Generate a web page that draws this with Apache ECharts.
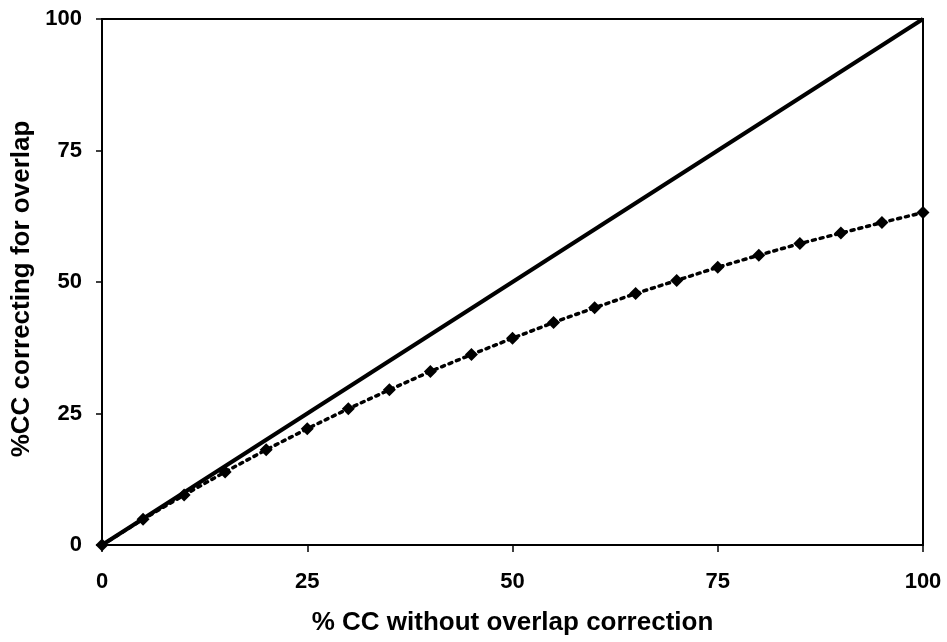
<!DOCTYPE html>
<html>
<head>
<meta charset="utf-8">
<script src="https://cdn.jsdelivr.net/npm/echarts@6/dist/echarts.min.js"></script>
<style>
  html, body { margin: 0; padding: 0; background: #fff; }
  #chart { width: 947px; height: 642px; }
</style>
</head>
<body>
<div id="chart"></div>
<script>
// % CC without overlap correction (x) against % CC correcting for overlap (y)
const xValues = [0, 5, 10, 15, 20, 25, 30, 35, 40, 45, 50, 55, 60, 65, 70, 75, 80, 85, 90, 95, 100];
const correctedValues = [0, 4.9, 9.5, 13.9, 18.1, 22.1, 25.9, 29.5, 33.0, 36.2, 39.3, 42.3, 45.1, 47.8, 50.3, 52.8, 55.1, 57.3, 59.3, 61.3, 63.2];
const identityX = [0, 100];
const identityY = [0, 100];
const tickValues = [0, 25, 50, 75, 100];

const xTitle = '% CC without overlap correction';
const yTitle = '%CC correcting for overlap';

const font = 'Liberation Sans, Arial, sans-serif';

const chart = echarts.init(document.getElementById('chart'), null, { renderer: 'canvas' });

const axisCommon = {
  type: 'value',
  min: 0,
  max: 100,
  interval: 25,
  axisLine: { show: true, onZero: false, lineStyle: { color: '#000', width: 2 } },
  axisTick: { show: true, length: 6, lineStyle: { color: '#000', width: 1.5 } },
  splitLine: { show: false },
  nameLocation: 'middle',
  nameTextStyle: { color: '#000', fontFamily: font, fontWeight: 'bold', fontSize: 26 },
  axisLabel: {
    color: '#000', fontFamily: font, fontWeight: 'bold', fontSize: 22,
    formatter: v => tickValues.includes(v) ? String(v) : ''
  }
};

chart.setOption({
  animation: false,
  backgroundColor: '#fff',
  grid: {
    left: 102, top: 19, right: 24, bottom: 97,
    show: true, borderColor: '#000', borderWidth: 2, backgroundColor: 'transparent'
  },
  xAxis: Object.assign({}, axisCommon, {
    name: xTitle,
    nameGap: 65,
    axisTick: { show: true, length: 7, inside: false, lineStyle: { color: '#000', width: 1.5 } },
    axisLabel: Object.assign({}, axisCommon.axisLabel, { margin: 26 })
  }),
  yAxis: Object.assign({}, axisCommon, {
    name: yTitle,
    nameGap: 66,
    nameTextStyle: Object.assign({}, axisCommon.nameTextStyle, { padding: [0, 14, 0, 0] }),
    axisLabel: Object.assign({}, axisCommon.axisLabel, { margin: 20 })
  }),
  series: [
    {
      type: 'line',
      data: identityX.map((x, i) => [x, identityY[i]]),
      showSymbol: false,
      lineStyle: { color: '#000', width: 4 },
      z: 2
    },
    {
      type: 'line',
      data: xValues.map((x, i) => [x, correctedValues[i]]),
      symbol: 'diamond',
      symbolSize: 13,
      showAllSymbol: true,
      itemStyle: { color: '#000' },
      lineStyle: { color: '#000', width: 3.5, type: [3, 5], cap: 'round' },
      z: 3
    }
  ]
});
</script>
</body>
</html>
